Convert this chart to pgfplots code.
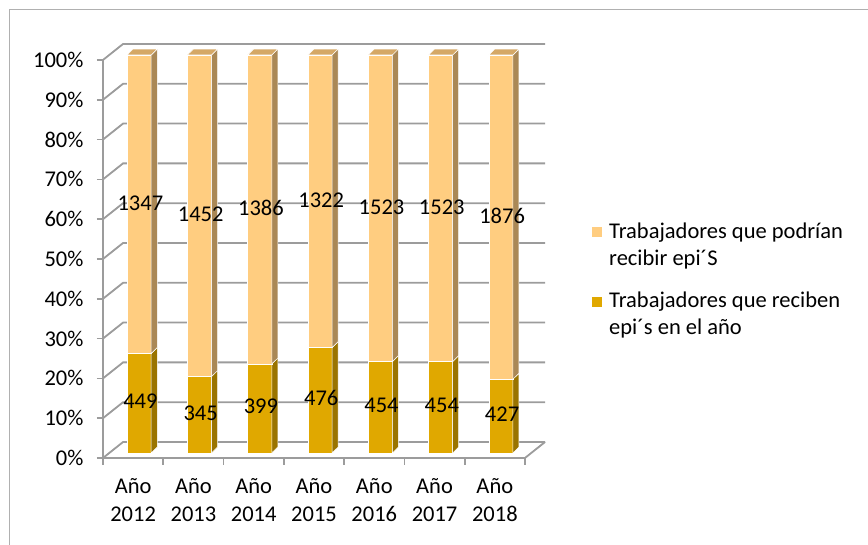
\documentclass[border=0pt]{standalone}
\usepackage{fontspec}
\setmainfont{Carlito}
\usepackage{pgfplots}
\usepackage{pgfplotstable}
\pgfplotsset{compat=1.18}

\definecolor{litefront}{HTML}{FFCD80}
\definecolor{liteside}{HTML}{AA8856}
\definecolor{litetop}{HTML}{D5A866}
\definecolor{darkfront}{HTML}{E0A800}
\definecolor{darkside}{HTML}{9A7400}
\definecolor{gridc}{HTML}{9C9C9C}
\newcommand{\lbl}{\fontsize{22.5}{28}\selectfont}

% workers receiving PPE / workers who could receive PPE
\pgfplotstableread{
idx recib podr
0 449 1347
1 345 1452
2 399 1386
3 476 1322
4 454 1523
5 454 1523
6 427 1876
}\datatab

\begin{document}
\begin{tikzpicture}[x=1pt,y=1pt]
\useasboundingbox (0,0) rectangle (868,545);
\draw[gridc!80, line width=1pt] (9,0) -- (9,535) -- (868,535);
\begin{axis}[
  at={(103pt,87pt)}, anchor=south west,
  scale only axis, width=422pt, height=398pt,
  xmin=-0.5, xmax=6.5, ymin=0, ymax=100,
  clip=false,
  axis x line*=bottom, axis y line*=left,
  axis line style={gridc, line width=1.6pt},
  tick align=outside,
  xtick={0,...,6},
  xticklabels={{Año\\2012},{Año\\2013},{Año\\2014},{Año\\2015},{Año\\2016},{Año\\2017},{Año\\2018}},
  minor xtick={-0.5,0.5,...,6.5},
  major x tick style={draw=none},
  minor tick length=7pt,
  minor x tick style={gridc, line width=1.6pt},
  ytick={0,10,...,100},
  major tick length=6pt,
  y tick style={gridc, line width=1.6pt},
  yticklabel={\pgfmathprintnumber{\tick}\%},
  /pgf/number format/assume math mode=true,
  tick label style={font=\lbl},
  xticklabel style={align=center, yshift=-11pt},
  yticklabel style={xshift=-10pt},
]
% back wall and floor
\pgfplotsinvokeforeach{0,10,...,100}{
  \draw[gridc, line width=1.8pt] (axis cs:-0.5,#1) -- ++(axis direction cs:0.332,4.02) -- ++(axis direction cs:7,0);
}
\draw[gridc, line width=1.8pt] (axis cs:6.5,0) -- ++(axis direction cs:0.332,4.02);
% 3D bars
\pgfplotsinvokeforeach{0,...,6}{
  \pgfplotstablegetelem{#1}{recib}\of\datatab \edef\ra{\pgfplotsretval}
  \pgfplotstablegetelem{#1}{podr}\of\datatab \edef\rb{\pgfplotsretval}
  \pgfmathsetmacro\pa{\ra/(\ra+\rb)*100}
  \pgfmathsetmacro\ya{1.26+\pa}
  \pgfmathsetmacro\yas{\ya+1.5}
  \pgfmathsetmacro\xl{#1-0.1}
  \pgfmathsetmacro\xr{#1+0.3}
  \pgfmathsetmacro\xs{#1+0.4}
  \pgfmathsetmacro\xls{#1}
  \pgfmathsetmacro\xc{#1+0.12}
  \pgfmathsetmacro\ylo{1.26+\pa/2+0.5}
  \pgfmathsetmacro\yhi{1.26+(\pa+100)/2+0.3}
  \edef\cmd{
    \noexpand\addplot[draw=white, line width=0.5pt, fill=darkfront, forget plot] coordinates {(\xl,1.26) (\xr,1.26) (\xr,\ya) (\xl,\ya)} -- cycle;
    \noexpand\addplot[draw=white, line width=0.5pt, fill=darkside, forget plot] coordinates {(\xr,1.26) (\xs,2.76) (\xs,\yas) (\xr,\ya)} -- cycle;
    \noexpand\addplot[draw=white, line width=0.5pt, fill=litefront, forget plot] coordinates {(\xl,\ya) (\xr,\ya) (\xr,101.26) (\xl,101.26)} -- cycle;
    \noexpand\addplot[draw=white, line width=0.5pt, fill=liteside, forget plot] coordinates {(\xr,\ya) (\xs,\yas) (\xs,102.76) (\xr,101.26)} -- cycle;
    \noexpand\addplot[draw=white, line width=0.5pt, fill=litetop, forget plot] coordinates {(\xl,101.26) (\xr,101.26) (\xs,102.76) (\xls,102.76)} -- cycle;
    \noexpand\node[font=\noexpand\lbl] at (axis cs:\xc,\ylo) {\ra};
    \noexpand\node[font=\noexpand\lbl] at (axis cs:\xc,\yhi) {\rb};
  }
  \cmd
}
\end{axis}
% legend
\fill[litefront] (592,308) rectangle (602,318);
\node[font=\lbl, anchor=base west, inner sep=0pt] at (609,306) {Trabajadores que podrían};
\node[font=\lbl, anchor=base west, inner sep=0pt] at (609,279) {recibir epi´S};
\fill[darkfront] (592,238) rectangle (602,248);
\node[font=\lbl, anchor=base west, inner sep=0pt] at (609,237) {Trabajadores que reciben};
\node[font=\lbl, anchor=base west, inner sep=0pt] at (609,210) {epi´s en el año};
\end{tikzpicture}
\end{document}
